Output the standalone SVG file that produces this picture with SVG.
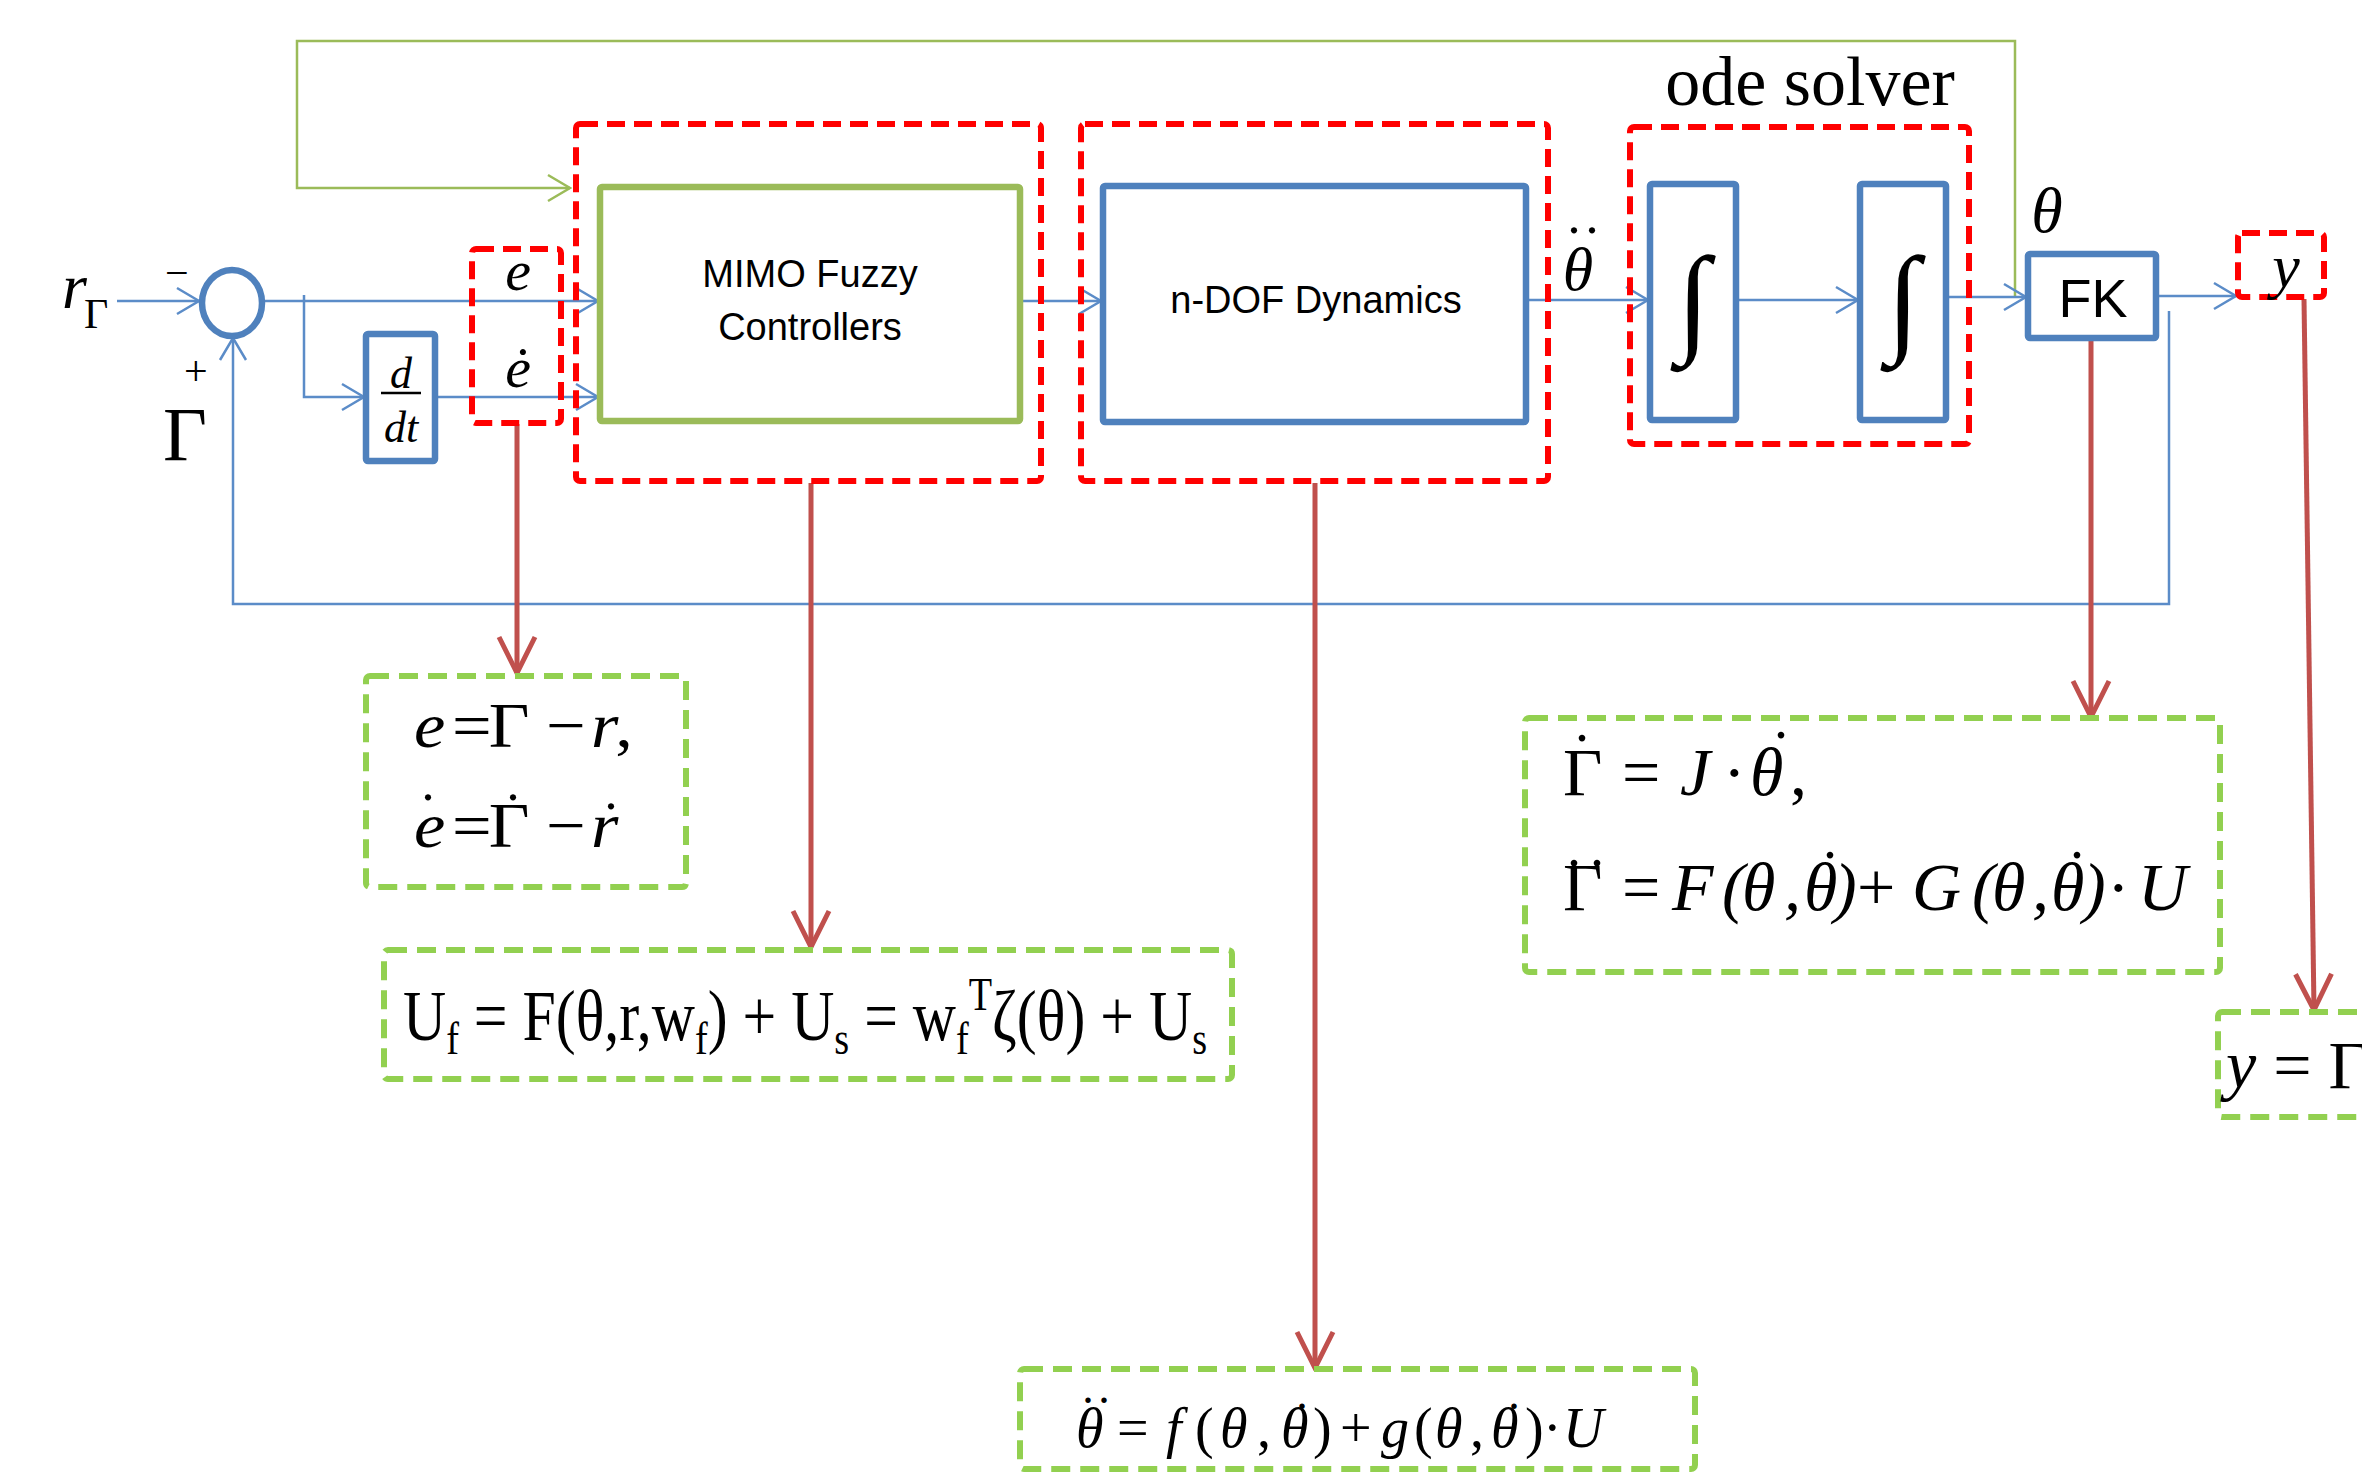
<svg xmlns="http://www.w3.org/2000/svg" width="2362" height="1473" viewBox="0 0 2362 1473">
  <style>
    .bg { fill: #ffffff; }
    .red-group { fill: none; stroke: #ff0000; stroke-width: 6; stroke-dasharray: 18 9; }
    .green-note { fill: none; stroke: #92d050; stroke-width: 6; stroke-dasharray: 19 10; }
    .blue-block { fill: #ffffff; stroke: #4f81bd; stroke-width: 6.5; }
    .green-block { fill: #ffffff; stroke: #9bbb59; stroke-width: 6.5; }
    .wire { fill: none; stroke: #5b8cc8; stroke-width: 2.5; }
    .loop { fill: none; stroke: #9bbb59; stroke-width: 2.5; }
    .pointer { fill: none; stroke: #c0504d; stroke-width: 5; }
    .sans { font-family: "Liberation Sans", Arial, sans-serif; fill: #000; }
    .serif { font-family: "Liberation Serif", "Times New Roman", serif; fill: #000; }
    .it { font-style: italic; }
    .dot { font-family: "Liberation Serif", "Times New Roman", serif; fill: #000; text-anchor: middle; }
  </style>
  <defs>
    <marker id="arrow-blue" markerUnits="userSpaceOnUse" viewBox="0 0 26 30" refX="24" refY="15" markerWidth="26" markerHeight="30" orient="auto">
      <path d="M2,2 L24,15 L2,28" fill="none" stroke="#5b8cc8" stroke-width="2.5"/>
    </marker>
    <marker id="arrow-green" markerUnits="userSpaceOnUse" viewBox="0 0 26 30" refX="24" refY="15" markerWidth="26" markerHeight="30" orient="auto">
      <path d="M2,2 L24,15 L2,28" fill="none" stroke="#9bbb59" stroke-width="2.5"/>
    </marker>
    <marker id="arrow-red" markerUnits="userSpaceOnUse" viewBox="0 0 42 42" refX="39" refY="21" markerWidth="42" markerHeight="42" orient="auto">
      <path d="M3,3 L39,21 L3,39" fill="none" stroke="#c0504d" stroke-width="5"/>
    </marker>
  </defs>

  <rect class="bg" x="0" y="0" width="2362" height="1473"/>

  <!-- connectors -->
  <g id="connectors">
    <!-- outer feedback of theta to controller -->
    <path class="loop" d="M2015,297 V41 H297 V188 H570" marker-end="url(#arrow-green)"/>
    <!-- signal flow -->
    <path class="wire" d="M117,301 H199" marker-end="url(#arrow-blue)"/>
    <path class="wire" d="M264,301 H598" marker-end="url(#arrow-blue)"/>
    <path class="wire" d="M304,295 V397 H364" marker-end="url(#arrow-blue)"/>
    <path class="wire" d="M436,397 H598" marker-end="url(#arrow-blue)"/>
    <path class="wire" d="M1021,301 H1101" marker-end="url(#arrow-blue)"/>
    <path class="wire" d="M1527,300 H1648" marker-end="url(#arrow-blue)"/>
    <path class="wire" d="M1737,300 H1858" marker-end="url(#arrow-blue)"/>
    <path class="wire" d="M1947,297 H2026" marker-end="url(#arrow-blue)"/>
    <path class="wire" d="M2157,296 H2236" marker-end="url(#arrow-blue)"/>
    <!-- output feedback to summing junction -->
    <path class="wire" d="M2169,311 V604 H233 V338" marker-end="url(#arrow-blue)"/>
    <!-- annotation pointers -->
    <path class="pointer" d="M517,424 V673" marker-end="url(#arrow-red)"/>
    <path class="pointer" d="M811,483 V947" marker-end="url(#arrow-red)"/>
    <path class="pointer" d="M1315,483 V1368" marker-end="url(#arrow-red)"/>
    <path class="pointer" d="M2091,339 V717" marker-end="url(#arrow-red)"/>
    <path class="pointer" d="M2304,299 L2314,1010" marker-end="url(#arrow-red)"/>
  </g>

  <!-- input reference -->
  <g id="input-r">
    <text class="serif it" x="62" y="308" font-size="64">r</text>
    <text class="serif" x="84" y="328" font-size="42">Γ</text>
    <text class="serif" x="165" y="287" font-size="42">−</text>
  </g>

  <!-- summing junction -->
  <g id="sum">
    <ellipse cx="232" cy="303" rx="30" ry="33" fill="#ffffff" stroke="#4f81bd" stroke-width="6.5"/>
    <text class="serif" x="184" y="385" font-size="42">+</text>
    <text class="serif" x="163" y="460" font-size="76">Γ</text>
  </g>

  <!-- derivative block -->
  <g id="ddt">
    <rect class="blue-block" x="366" y="334" width="69" height="127" rx="2"/>
    <text class="serif it" x="401" y="388" font-size="44" text-anchor="middle">d</text>
    <line x1="381" y1="393" x2="421" y2="393" stroke="#000" stroke-width="2.5"/>
    <text class="serif it" x="401" y="442" font-size="44" text-anchor="middle">dt</text>
  </g>

  <!-- error signals -->
  <g id="error">
    <rect class="red-group" x="472" y="249" width="89" height="174" rx="4"/>
    <text class="serif it" x="518" y="290" font-size="58" text-anchor="middle">e</text>
    <text class="serif it" x="518" y="387" font-size="58" text-anchor="middle">ė</text>
  </g>

  <!-- controller -->
  <g id="controller">
    <rect class="red-group" x="576" y="124" width="465" height="357" rx="4"/>
    <rect class="green-block" x="600" y="187" width="420" height="234" rx="2"/>
    <text class="sans" x="810" y="287" font-size="38" text-anchor="middle">MIMO Fuzzy</text>
    <text class="sans" x="810" y="340" font-size="38" text-anchor="middle">Controllers</text>
  </g>

  <!-- robot dynamics -->
  <g id="dynamics">
    <rect class="red-group" x="1081" y="124" width="467" height="357" rx="4"/>
    <rect class="blue-block" x="1103" y="186" width="423" height="236" rx="2"/>
    <text class="sans" x="1316" y="313" font-size="38" text-anchor="middle">n-DOF Dynamics</text>
  </g>

  <!-- acceleration signal label -->
  <g id="theta-ddot">
    <text class="serif it" x="1578" y="290" font-size="62" text-anchor="middle">θ</text>
    <text class="dot" x="1574" y="233" font-size="52">.</text>
    <text class="dot" x="1592" y="233" font-size="52">.</text>
  </g>

  <!-- integrators -->
  <g id="ode-solver">
    <text class="serif" x="1810" y="105" font-size="70" text-anchor="middle">ode solver</text>
    <rect class="red-group" x="1630" y="127" width="339" height="317" rx="4"/>
    <rect class="blue-block" x="1650" y="184" width="86" height="236" rx="2"/>
    <rect class="blue-block" x="1860" y="184" width="86" height="236" rx="2"/>
    <text class="serif it" x="1693" y="340" font-size="120" text-anchor="middle">∫</text>
    <text class="serif it" x="1903" y="340" font-size="120" text-anchor="middle">∫</text>
  </g>

  <!-- forward kinematics -->
  <g id="fk">
    <text class="serif it" x="2047" y="232" font-size="64" text-anchor="middle">θ</text>
    <rect class="blue-block" x="2028" y="254" width="128" height="84" rx="2"/>
    <text class="sans" x="2093" y="317" font-size="54" text-anchor="middle">FK</text>
  </g>

  <!-- output -->
  <g id="output">
    <rect class="red-group" x="2238" y="233" width="86" height="64" rx="4"/>
    <text class="serif it" x="2286" y="287" font-size="62" text-anchor="middle">y</text>
  </g>

  <!-- equation notes -->
  <g id="note-error">
    <rect class="green-note" x="366" y="676" width="320" height="211" rx="4"/>
    <g transform="translate(414,0) scale(1.1,1) translate(-414,0)">
      <text class="serif" y="747" font-size="64"><tspan class="it" x="414">e</tspan><tspan x="448.5">=</tspan><tspan x="482">Γ</tspan><tspan x="534">−</tspan><tspan class="it" x="575">r</tspan><tspan x="597">,</tspan></text>
      <text class="serif" y="847" font-size="64"><tspan class="it" x="414">e</tspan><tspan x="448.5">=</tspan><tspan x="482">Γ</tspan><tspan x="534">−</tspan><tspan class="it" x="575">r</tspan></text>
    </g>
    <text class="dot" x="428" y="800" font-size="52">.</text>
    <text class="dot" x="513" y="800" font-size="52">.</text>
    <text class="dot" x="611" y="809" font-size="52">.</text>
  </g>

  <g id="note-control">
    <rect class="green-note" x="384" y="950" width="848" height="129" rx="4"/>
    <text class="serif" x="403" y="1040" font-size="72" textLength="804" lengthAdjust="spacingAndGlyphs">U<tspan dy="14" font-size="46">f</tspan><tspan dy="-14"> = F(θ,r,w</tspan><tspan dy="14" font-size="46">f</tspan><tspan dy="-14">) + U</tspan><tspan dy="14" font-size="46">s</tspan><tspan dy="-14"> = w</tspan><tspan dy="14" font-size="46">f</tspan><tspan dy="-44" font-size="46">T</tspan><tspan dy="30">ζ(θ) + U</tspan><tspan dy="14" font-size="46">s</tspan></text>
  </g>

  <g id="note-dynamics">
    <rect class="green-note" x="1020" y="1369" width="675" height="100" rx="4"/>
    <text class="serif" y="1447" font-size="56"><tspan class="it" x="1076">θ</tspan><tspan x="1117">=</tspan><tspan class="it" x="1166">f</tspan><tspan x="1195">(</tspan><tspan class="it" x="1220">θ</tspan><tspan x="1257">,</tspan><tspan class="it" x="1281">θ</tspan><tspan x="1313">)</tspan><tspan x="1340">+</tspan><tspan class="it" x="1381">g</tspan><tspan x="1414">(</tspan><tspan class="it" x="1435">θ</tspan><tspan x="1470">,</tspan><tspan class="it" x="1491">θ</tspan><tspan x="1525">)</tspan><tspan x="1543">·</tspan><tspan class="it" x="1563">U</tspan></text>
    <text class="dot" x="1088" y="1403" font-size="46">.</text>
    <text class="dot" x="1104" y="1403" font-size="46">.</text>
    <text class="dot" x="1302" y="1409" font-size="46">.</text>
    <text class="dot" x="1514" y="1409" font-size="46">.</text>
  </g>

  <g id="note-kinematics">
    <rect class="green-note" x="1525" y="718" width="695" height="254" rx="4"/>
    <text class="serif" y="795" font-size="68"><tspan x="1563">Γ</tspan><tspan x="1622">=</tspan><tspan class="it" x="1680">J</tspan><tspan x="1723">·</tspan><tspan class="it" x="1750">θ</tspan><tspan x="1790">,</tspan></text>
    <text class="serif" y="910" font-size="68"><tspan x="1563">Γ</tspan><tspan x="1622">=</tspan><tspan class="it" x="1672">F</tspan><tspan class="it" x="1722">(</tspan><tspan class="it" x="1742">θ</tspan><tspan class="it" x="1784">,</tspan><tspan class="it" x="1804">θ</tspan><tspan class="it" x="1834">)</tspan><tspan x="1857">+</tspan><tspan class="it" x="1912">G</tspan><tspan class="it" x="1972">(</tspan><tspan class="it" x="1992">θ</tspan><tspan class="it" x="2032">,</tspan><tspan class="it" x="2051">θ</tspan><tspan class="it" x="2083">)</tspan><tspan x="2107">·</tspan><tspan class="it" x="2138">U</tspan></text>
    <text class="dot" x="1582" y="741" font-size="56">.</text>
    <text class="dot" x="1781" y="738" font-size="56">.</text>
    <text class="dot" x="1574" y="866" font-size="56">.</text>
    <text class="dot" x="1597" y="866" font-size="56">.</text>
    <text class="dot" x="1830" y="858" font-size="56">.</text>
    <text class="dot" x="2077" y="858" font-size="56">.</text>
  </g>

  <g id="note-output">
    <rect class="green-note" x="2218" y="1012" width="180" height="105" rx="4"/>
    <text class="serif" x="2226" y="1088" font-size="68"><tspan class="it">y</tspan> = Γ</text>
  </g>
</svg>
